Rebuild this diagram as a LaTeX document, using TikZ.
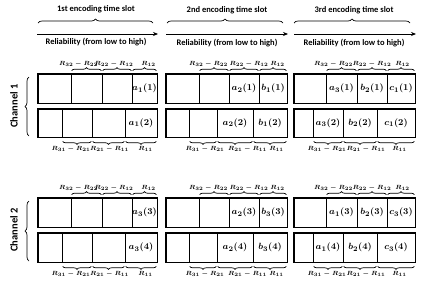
\documentclass[tikz,border=0pt]{standalone}
\usepackage{fontspec}
\usepackage{amsmath}
\newfontfamily\hdrfont{Carlito}
\usetikzlibrary{decorations.pathreplacing,arrows.meta}
\newcommand\mkrow[4]{%
  \foreach \a/\b/\t [count=\i] in {#4}{
    \node[cell, minimum width={(\b-\a)*1pt}, minimum height={(#3-#2)*1pt}] (#1\i) at ({(\a+\b)/2},{(#2+#3)/2}) {\t};
  }
  \draw[outerbox] (#11.north west) rectangle (#14.south east);
}
% #1 cell, #2 label x offset, #3 label
\newcommand\topbr[3]{\draw[brc] ([xshift=1pt,yshift=3pt]#1.north west) -- ([xshift=-1pt,yshift=3pt]#1.north east) node[midway, above=4pt, xshift=#2pt, blab] {#3};}
\newcommand\botbr[3]{\draw[brc] ([xshift=-1pt,yshift=-4pt]#1.south east) -- ([xshift=1pt,yshift=-4pt]#1.south west) node[midway, below=5pt, xshift=#2pt, blab] {#3};}
\begin{document}
\begin{tikzpicture}[x=1pt,y=-1pt,
  cell/.style={draw, line width=0.6pt, inner sep=0pt, font=\fontsize{9.5}{10}\selectfont\boldmath},
  outerbox/.style={line width=1.3pt},
  brc/.style={decorate, decoration={brace, amplitude=3pt}, line width=0.7pt},
  bigbrc/.style={decorate, decoration={brace, amplitude=4pt}, line width=0.7pt},
  blab/.style={font=\fontsize{6.5}{7}\selectfont\boldmath, inner sep=0pt},
  hdr/.style={font=\hdrfont\bfseries\fontsize{8.5}{9}\selectfont, inner sep=1pt},
  chl/.style={font=\hdrfont\bfseries\fontsize{10.5}{11}\selectfont, rotate=90, inner sep=1pt},
  arr/.style={-{Stealth[length=5pt,width=4pt]}, line width=0.8pt}
]
\useasboundingbox (0,0) rectangle (423,287);

% ---------- headers ----------
\node[hdr] (h1) at (96,9) {1st encoding time slot};
\node[hdr] (h2) at (227,10) {2nd encoding time slot};
\node[hdr] (h3) at (354,10) {3rd encoding time slot};
\coordinate (b1l) at (38,23); \coordinate (b1r) at (153,23);
\coordinate (b2l) at (167,23); \coordinate (b2r) at (283,23);
\coordinate (b3l) at (294,23); \coordinate (b3r) at (410,23);
\draw[bigbrc] (b1l) -- (b1r);
\draw[bigbrc] (b2l) -- (b2r);
\draw[bigbrc] (b3l) -- (b3r);
\coordinate (a1l) at (37,34); \coordinate (a1r) at (158,34);
\coordinate (a2l) at (166,34); \coordinate (a2r) at (288,34);
\coordinate (a3l) at (294,34); \coordinate (a3r) at (416,34);
\draw[arr] (a1l) -- (a1r);
\draw[arr] (a2l) -- (a2r);
\draw[arr] (a3l) -- (a3r);
\node[hdr] (r1) at (96,42) {Reliability (from low to high)};
\node[hdr] (r2) at (227,43) {Reliability (from low to high)};
\node[hdr] (r3) at (354,43) {Reliability (from low to high)};

% ---------- channel labels ----------
\node[chl] (ch1) at (14,106) {Channel 1};
\node[chl] (ch2) at (14,230) {Channel 2};
\coordinate (c1b) at (29,136); \coordinate (c1t) at (29,77);
\coordinate (c2b) at (29,261); \coordinate (c2t) at (29,201);
\draw[bigbrc] (c1b) -- (c1t);
\draw[bigbrc] (c2b) -- (c2t);

% ---------- Channel 1 ----------
\mkrow{Aat}{74}{103}{38/71/{},71/102/{},102/132/{},132/157/{$a_1(1)$}}
\mkrow{Aab}{109}{137}{38/62/{},62/92/{},92/125/{},125/157/{$a_1(2)$}}
\mkrow{Abt}{74}{103}{166/199/{},199/229/{},229/259/{$a_2(1)$},259/287/{$b_1(1)$}}
\mkrow{Abb}{109}{137}{166/189/{},189/217/{},217/253/{$a_2(2)$},253/287/{$b_1(2)$}}
\mkrow{Act}{74}{103}{294/326/{},326/357/{$a_3(1)$},357/387/{$b_2(1)$},387/415/{$c_1(1)$}}
\mkrow{Acb}{109}{137}{294/313/{},313/343/{$a_3(2)$},343/377/{$b_2(2)$},377/415/{$c_1(2)$}}

% ---------- Channel 2 ----------
\mkrow{Bat}{198}{227}{38/71/{},71/102/{},102/132/{},132/157/{$a_3(3)$}}
\mkrow{Bab}{233}{262}{38/62/{},62/92/{},92/125/{},125/157/{$a_3(4)$}}
\mkrow{Bbt}{198}{227}{166/199/{},199/229/{},229/259/{$a_2(3)$},259/287/{$b_3(3)$}}
\mkrow{Bbb}{233}{262}{166/189/{},189/217/{},217/253/{$a_2(4)$},253/287/{$b_3(4)$}}
\mkrow{Bct}{198}{227}{294/326/{},326/357/{$a_1(3)$},357/387/{$b_2(3)$},387/415/{$c_3(3)$}}
\mkrow{Bcb}{233}{262}{294/313/{},313/343/{$a_1(4)$},343/377/{$b_2(4)$},377/415/{$c_3(4)$}}

% ---------- braces ----------
\foreach \p/\ta/\tb/\tc/\ba/\bb/\bc in
  {Aa/-8/-3/4/-6/1/4.5, Ab/-5.5/5/4.5/2/12.5/6.5, Ac/-8/0/1.5/-1/6/3.5,
   Ba/-8/-3/4/-6/1/4.5, Bb/-5.5/5/4.5/2/12.5/6.5, Bc/-8/0/1.5/-1/6/3.5}{
  \topbr{\p t2}{\ta}{$R_{32}-R_{22}$}
  \topbr{\p t3}{\tb}{$R_{22}-R_{12}$}
  \topbr{\p t4}{\tc}{$R_{12}$}
  \botbr{\p b2}{\ba}{$R_{31}-R_{21}$}
  \botbr{\p b3}{\bb}{$R_{21}-R_{11}$}
  \botbr{\p b4}{\bc}{$R_{11}$}
}
\end{tikzpicture}
\end{document}
